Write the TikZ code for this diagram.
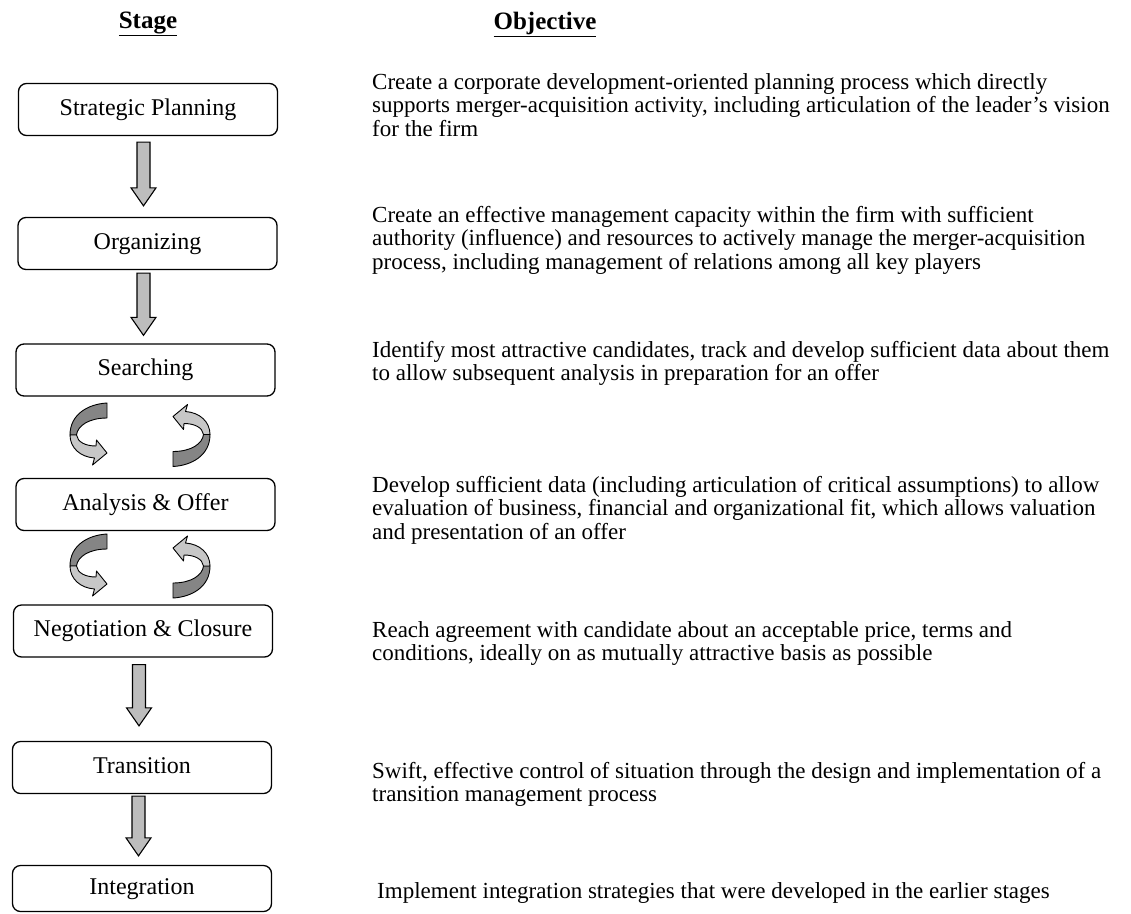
\documentclass[tikz,border=0pt]{standalone}
\usepackage{fontspec}
\setmainfont{Liberation Serif}
\usetikzlibrary{calc}

\definecolor{arrowgray}{gray}{0.74}
\definecolor{ribbondark}{gray}{0.52}
\definecolor{ribbonlight}{gray}{0.78}

% block arrow pointing down from one stage box to the next
% #1 upper box, #2 lower box, #3 x shift, #4 gap below #1, #5 gap above #2
\newcommand{\stagearrow}[5]{%
  \draw[barrow] let \p1=($(#1.south)+(#3,#4)$), \p2=($(#2.north)+(#3,-#5)$) in
    (\x1-6.5pt,\y1) -- (\x1+6.5pt,\y1) -- (\x1+6.5pt,\y2+18pt) -- (\x1+12.5pt,\y2+18pt)
    -- (\x1,\y2) -- (\x1-12.5pt,\y2+18pt) -- (\x1-6.5pt,\y2+18pt) -- cycle;}

\begin{document}
\begin{tikzpicture}[x=1pt,y=-1pt,
  stagebox/.style={draw, line width=1.3pt, rounded corners=8pt, minimum width=259pt,
    minimum height=52pt, inner sep=0pt, text height=16pt, text depth=5pt,
    font=\fontsize{24}{26}\selectfont},
  objtext/.style={anchor=north west, align=left, inner sep=0pt,
    font=\fontsize{23}{23.5}\selectfont},
  header/.style={inner sep=0pt, font=\fontsize{25}{28}\selectfont\bfseries},
  barrow/.style={draw, line width=1.1pt, fill=arrowgray, line join=miter},
  ribbon/.style={draw, line width=0.9pt, line join=round},
  loop/.pic={
    % upper, darker half of the twisted band
    \path[ribbon, fill=ribbondark] (18.5,-31) .. controls (0,-30) and (-18.5,-20) .. (-18.5,1)
      -- (-12,1) .. controls (-11,-8) and (0,-16) .. (18.5,-16) -- cycle;
    % lower, lighter half ending in the head
    \path[ribbon, fill=ribbonlight] (-18.5,1) .. controls (-18.5,14) and (-8,23) .. (6,24)
      -- (4,31) -- (18.5,19) -- (8,6) -- (7.5,12)
      .. controls (-3,12) and (-11,8) .. (-12,1) -- cycle;
  },
]
\useasboundingbox (0,0) rectangle (1131,913);

% column headings
\node[header] (hstage) at (148,24) {\underline{Stage}};
\node[header] (hobj) at (545,24) {\underline{Objective}};

% stage boxes
\node[stagebox] (b1) at (148,109.5) {Strategic Planning};
\node[stagebox] (b2) at (147.5,243.5) {Organizing};
\node[stagebox] (b3) at (145.5,370) {Searching};
\node[stagebox] (b4) at (145.5,504.5) {Analysis \& Offer};
\node[stagebox] (b5) at (143,631) {Negotiation \& Closure};
\node[stagebox] (b6) at (142,767.5) {Transition};
\node[stagebox, minimum height=46pt] (b7) at (142,888.5) {Integration};

% objectives
\node[objtext] (o1) at (372,71) {\rule{0pt}{18pt}Create a corporate development-oriented planning process which directly\\
supports merger-acquisition activity, including articulation of the leader's vision\\
for the firm};
\node[objtext] (o2) at (372,204) {\rule{0pt}{18pt}Create an effective management capacity within the firm with sufficient\\
authority (influence) and resources to actively manage the merger-acquisition\\
process, including management of relations among all key players};
\node[objtext] (o3) at (372,339) {\rule{0pt}{18pt}Identify most attractive candidates, track and develop sufficient data about them\\
to allow subsequent analysis in preparation for an offer};
\node[objtext] (o4) at (372,474) {\rule{0pt}{18pt}Develop sufficient data (including articulation of critical assumptions) to allow\\
evaluation of business, financial and organizational fit, which allows valuation\\
and presentation of an offer};
\node[objtext] (o5) at (372,619) {\rule{0pt}{18pt}Reach agreement with candidate about an acceptable price, terms and\\
conditions, ideally on as mutually attractive basis as possible};
\node[objtext] (o6) at (372,760) {\rule{0pt}{18pt}Swift, effective control of situation through the design and implementation of a\\
transition management process};
\node[objtext] (o7) at (377,880) {\rule{0pt}{18pt}Implement integration strategies that were developed in the earlier stages};

% straight flow arrows
\stagearrow{b1}{b2}{-4.5}{6}{11}
\stagearrow{b2}{b3}{-4}{3}{8}
\stagearrow{b5}{b6}{-4}{7}{15}
\stagearrow{b6}{b7}{-3.5}{2}{9}

% iteration loops between searching, analysis and negotiation
\pic at (88.5,434) {loop};
\pic[rotate=180] at (191.5,435.5) {loop};
\pic at (88.5,565) {loop};
\pic[rotate=180] at (191.5,567) {loop};
\end{tikzpicture}
\end{document}
